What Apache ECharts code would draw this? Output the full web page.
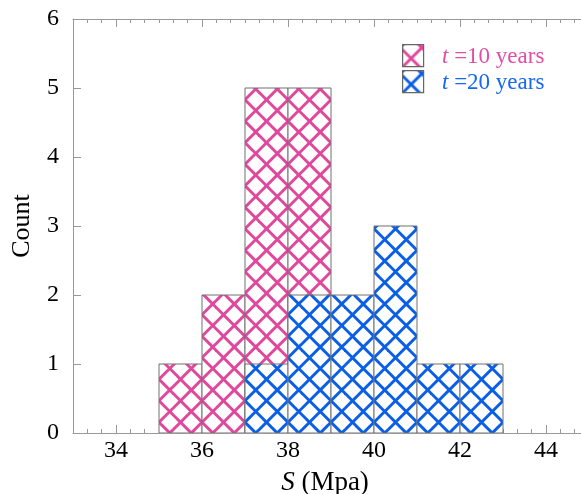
<!DOCTYPE html>
<html><head><meta charset="utf-8">
<script src="https://cdn.jsdelivr.net/npm/echarts@6/dist/echarts.min.js"></script>
<style>html,body{margin:0;padding:0;background:#fff}#c{width:581px;height:494px}</style>
</head><body><div id="c"></div>
<script>
// ---- data ----
const binStarts10 = [35, 36, 37, 38];
const counts10 = [1, 2, 5, 5];
const binStarts20 = [37, 38, 39, 40, 41, 42];
const counts20 = [1, 2, 2, 3, 1, 1];
const binWidth = 1;
const xTickLabels = [34, 36, 38, 40, 42, 44];
const yTickLabels = [0, 1, 2, 3, 4, 5, 6];
const seriesLabels = [' =10 years', ' =20 years'];

// ---- layout / style ----
const X_MIN = 33, X_MAX = 45, Y_MIN = 0, Y_MAX = 6;
const G_LEFT = 73, G_TOP = 19, G_BOTTOM_PX = 433, G_W = 516;
const PX = G_W / (X_MAX - X_MIN);
const PERIOD = PX / 2;
const PINK = '#e0489c', BLUE = '#0b5fe6';
const PINK_TXT = '#e04fa5', BLUE_TXT = '#1767f0';
const AXIS_C = '#999';
const FONT = "'Liberation Serif', 'Times New Roman', serif";

function mod(a, m) { return ((a % m) + m) % m; }
function makeHatch(color) {
  const T = Math.round(PX);
  const cv = document.createElement('canvas');
  cv.width = T; cv.height = T;
  const ctx = cv.getContext('2d');
  ctx.fillStyle = '#fff'; ctx.fillRect(0, 0, T, T);
  const cx = G_LEFT + (35.25 - X_MIN) * PX, cy = G_BOTTOM_PX;
  const c1 = mod(cx - cy, PERIOD), c2 = mod(cx + cy, PERIOD);
  ctx.strokeStyle = color; ctx.lineWidth = 3;
  for (let k = -5; k <= 6; k++) {
    ctx.beginPath();
    ctx.moveTo(c1 + k * PERIOD - 5, -5); ctx.lineTo(c1 + k * PERIOD + T + 5, T + 5);
    ctx.stroke();
    ctx.beginPath();
    ctx.moveTo(c2 + k * PERIOD + 5, -5); ctx.lineTo(c2 + k * PERIOD - T - 5, T + 5);
    ctx.stroke();
  }
  return cv;
}
const fillPink = { image: makeHatch(PINK), repeat: 'repeat' };
const fillBlue = { image: makeHatch(BLUE), repeat: 'repeat' };

const minorTicks = [];
for (let k = 1; k < (X_MAX - X_MIN) * 3; k++) {
  const v = X_MIN + k / 3;
  if (Math.abs(v - Math.round(v)) < 1e-6 && xTickLabels.indexOf(Math.round(v)) >= 0) continue;
  minorTicks.push(v);
}

function renderBin(fill) {
  return function (params, api) {
    const p0 = api.coord([api.value(0), api.value(2)]);
    const p1 = api.coord([api.value(1), 0]);
    return {
      type: 'rect',
      shape: { x: p0[0], y: p0[1], width: p1[0] - p0[0], height: p1[1] - p0[1] },
      style: { fill: fill, stroke: '#707070', lineWidth: 1 }
    };
  };
}

const gridCommon = { left: G_LEFT, top: G_TOP, width: G_W, height: G_BOTTOM_PX - G_TOP,
  containLabel: false, outerBoundsMode: 'none' };
const tickStyle = { color: AXIS_C, width: 1 };

const chart = echarts.init(document.getElementById('c'), null, { renderer: 'canvas' });
chart.setOption({
  animation: false,
  backgroundColor: '#fff',
  grid: [Object.assign({}, gridCommon), Object.assign({}, gridCommon)],
  xAxis: [
    {
      type: 'value', gridIndex: 0, position: 'bottom', min: X_MIN, max: X_MAX,
      axisLine: { show: true, onZero: false, lineStyle: { color: AXIS_C } },
      axisTick: { show: true, inside: true, length: 8, customValues: xTickLabels, lineStyle: tickStyle },
      axisLabel: { customValues: xTickLabels, margin: 6, fontFamily: FONT, fontSize: 24, color: '#000', lineHeight: 24 },
      splitLine: { show: false },
      name: '{i|S} (Mpa)', nameLocation: 'middle', nameGap: 36,
      nameTextStyle: { fontFamily: FONT, fontSize: 27, color: '#000', lineHeight: 27, padding: [0, 12, 0, 0],
        rich: { i: { fontStyle: 'italic', fontFamily: FONT, fontSize: 27, color: '#000' } } }
    },
    {
      type: 'value', gridIndex: 0, position: 'top', min: X_MIN, max: X_MAX,
      axisLine: { show: true, onZero: false, lineStyle: { color: AXIS_C } },
      axisTick: { show: true, inside: true, length: 8, customValues: xTickLabels, lineStyle: tickStyle },
      axisLabel: { show: false }, splitLine: { show: false }
    },
    {
      type: 'value', gridIndex: 1, position: 'bottom', min: X_MIN, max: X_MAX,
      axisLine: { show: false, onZero: false },
      axisTick: { show: true, inside: true, length: 4, customValues: minorTicks, lineStyle: tickStyle },
      axisLabel: { show: false }, splitLine: { show: false }
    },
    {
      type: 'value', gridIndex: 1, position: 'top', min: X_MIN, max: X_MAX,
      axisLine: { show: false, onZero: false },
      axisTick: { show: true, inside: true, length: 4, customValues: minorTicks, lineStyle: tickStyle },
      axisLabel: { show: false }, splitLine: { show: false }
    }
  ],
  yAxis: [
    {
      type: 'value', gridIndex: 0, position: 'left', min: Y_MIN, max: Y_MAX,
      axisLine: { show: true, onZero: false, lineStyle: { color: AXIS_C } },
      axisTick: { show: true, inside: true, length: 8, customValues: yTickLabels, lineStyle: tickStyle },
      axisLabel: { customValues: yTickLabels, margin: 14, fontFamily: FONT, fontSize: 24, color: '#000' },
      splitLine: { show: false },
      name: 'Count', nameLocation: 'middle', nameGap: 38,
      nameTextStyle: { fontFamily: FONT, fontSize: 26, color: '#000' }
    },
    {
      type: 'value', gridIndex: 0, position: 'right', min: Y_MIN, max: Y_MAX,
      axisLine: { show: false, onZero: false, lineStyle: { color: AXIS_C } },
      axisTick: { show: true, inside: true, length: 3, customValues: yTickLabels, lineStyle: { color: '#ccc', width: 1 } },
      axisLabel: { show: false }, splitLine: { show: false }
    },
    {
      type: 'value', gridIndex: 1, min: Y_MIN, max: Y_MAX, show: false
    }
  ],
  series: [
    {
      type: 'custom', name: 't' + seriesLabels[0], xAxisIndex: 0, yAxisIndex: 0, clip: true,
      renderItem: renderBin(fillPink),
      encode: { x: [0, 1], y: 2 },
      data: binStarts10.map((s, i) => [s, s + binWidth, counts10[i]])
    },
    {
      type: 'custom', name: 't' + seriesLabels[1], xAxisIndex: 0, yAxisIndex: 0, clip: true,
      renderItem: renderBin(fillBlue),
      encode: { x: [0, 1], y: 2 },
      data: binStarts20.map((s, i) => [s, s + binWidth, counts20[i]])
    }
  ],
  graphic: [
    { type: 'rect', left: 402, top: 44, shape: { width: 21, height: 22 },
      style: { fill: fillPink, stroke: '#666', lineWidth: 1.2 }, z: 10 },
    { type: 'rect', left: 402, top: 70, shape: { width: 21, height: 22 },
      style: { fill: fillBlue, stroke: '#666', lineWidth: 1.2 }, z: 10 },
    { type: 'text', left: 442, top: 45, z: 10,
      style: { text: '{i|t}' + seriesLabels[0], fill: PINK_TXT, fontFamily: FONT, fontSize: 23,
        rich: { i: { fontStyle: 'italic', fill: PINK_TXT, fontFamily: FONT, fontSize: 23 } } } },
    { type: 'text', left: 442, top: 71, z: 10,
      style: { text: '{i|t}' + seriesLabels[1], fill: BLUE_TXT, fontFamily: FONT, fontSize: 23,
        rich: { i: { fontStyle: 'italic', fill: BLUE_TXT, fontFamily: FONT, fontSize: 23 } } } }
  ]
});
</script>
</body></html>
